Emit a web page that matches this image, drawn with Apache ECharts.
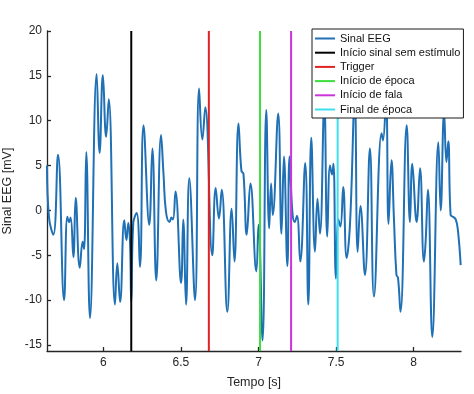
<!DOCTYPE html>
<html><head><meta charset="utf-8">
<script src="https://cdn.jsdelivr.net/npm/echarts@6/dist/echarts.min.js"></script>
<style>html,body{margin:0;padding:0;background:#fff}#c{width:474px;height:394px}</style>
</head><body><div id="c"></div>
<script>
const eegTime = [5.637,5.650,5.678,5.708,5.747,5.768,5.779,5.789,5.807,5.822,5.848,5.867,5.876,5.890,5.914,5.957,5.976,5.997,6.018,6.035,
  6.075,6.090,6.108,6.135,6.149,6.161,6.172,6.180,6.193,6.215,6.236,6.259,6.296,6.316,6.341,6.372,6.388,6.404,6.427,6.439,
  6.449,6.465,6.501,6.515,6.533,6.554,6.591,6.617,6.638,6.657,6.702,6.724,6.745,6.763,6.799,6.827,6.845,6.871,6.890,6.903,
  6.924,6.948,6.986,7.000,7.026,7.050,7.069,7.081,7.092,7.127,7.148,7.164,7.186,7.200,7.218,7.233,7.248,7.269,7.301,7.321,
  7.340,7.364,7.380,7.396,7.424,7.443,7.461,7.474,7.483,7.499,7.515,7.528,7.546,7.568,7.590,7.620,7.639,7.657,7.686,7.718,
  7.744,7.793,7.802,7.822,7.838,7.857,7.873,7.889,7.899,7.915,7.955,7.976,7.991,8.019,8.041,8.066,8.077,8.092,8.120,8.159,
  8.174,8.196,8.211,8.223,8.238,8.253,8.271,8.285,8.303];
const eegValue = [5.0,-0.8,-2.7,6.2,-10.0,-0.7,-1.3,-0.8,-5.2,1.4,-6.4,-3.5,-4.3,6.5,-12.0,15.2,6.4,15.1,8.2,12.4,
  -10.5,-5.9,-10.2,-1.1,-3.3,-1.4,-3.6,-10.2,-1.4,-0.3,-6.3,9.5,-1.6,6.9,-7.8,8.4,4.0,-0.2,-1.3,-0.8,
  -1.0,2.1,-8.1,-1.0,-10.5,3.6,-10.0,13.6,7.9,11.5,-5.0,2.5,-0.9,2.3,-11.3,0.2,-5.7,9.7,4.4,4.1,
  -2.7,3.0,-6.8,-1.6,-14.5,11.2,-2.0,3.0,-0.5,10.8,-2.6,6.0,-6.2,6.0,-0.1,-1.3,-0.6,-5.7,5.3,-10.5,
  8.1,-4.6,1.3,-2.6,12.0,-2.9,5.0,4.0,5.2,-7.6,-1.0,-1.8,2.6,-5.3,-1.4,12.5,-4.6,0.5,-7.2,6.9,
  -9.6,8.6,7.8,12.5,-1.5,5.6,-1.0,-7.2,-7.5,-11.3,9.5,-1.3,5.2,-1.3,4.7,-5.7,-3.5,2.3,-14.1,7.6,
  0.0,11.0,5.4,7.7,-0.5,-0.7,-1.0,-2.2,-6.1];
const markerNames = ['Início sinal sem estímulo','Trigger','Início de época','Início de fala','Final de época'];
const markerTimes = [6.18,6.68,7.01,7.21,7.51];
const xTicks = [6,6.5,7,7.5,8];
const yTicks = [-15,-10,-5,0,5,10,15,20];
const xRange = [5.637,8.305];
const yRange = [-15.67,20];

const markerColors = ['#000000','#e02222','#3ddd3d','#cc33dd','#3ddfee'];
const font = "'Liberation Sans', Arial, sans-serif";
const axisCol = '#262626';

const series = [{
  name: 'Sinal EEG', type: 'line', symbol: 'none', smooth: 0.45,
  lineStyle: {color: '#1f70b4', width: 2}, itemStyle: {color: '#1f70b4'},
  data: eegTime.map((t, i) => [t, eegValue[i]])
}];
markerNames.forEach((n, i) => {
  series.push({
    name: n, type: 'line', symbol: 'none',
    lineStyle: {color: markerColors[i], width: 2}, itemStyle: {color: markerColors[i]},
    data: [[markerTimes[i], yRange[0]], [markerTimes[i], yRange[1]]]
  });
});

const chart = echarts.init(document.getElementById('c'), null, {renderer: 'canvas'});
chart.setOption({
  animation: false,
  backgroundColor: '#fff',
  grid: {left: 47, top: 31, width: 414, height: 320, containLabel: false, outerBoundsMode: 'none'},
  xAxis: {
    type: 'value', min: xRange[0], max: xRange[1],
    name: 'Tempo [s]', nameLocation: 'middle', nameGap: 25,
    nameTextStyle: {fontFamily: font, fontSize: 12.5, color: axisCol},
    axisLine: {onZero: false, lineStyle: {color: axisCol, width: 1.3}},
    axisTick: {inside: true, length: 4, customValues: xTicks, lineStyle: {color: axisCol, width: 1.3}},
    axisLabel: {customValues: xTicks, margin: 6, fontFamily: font, fontSize: 12, color: axisCol, formatter: v => String(v)},
    splitLine: {show: false}
  },
  yAxis: {
    type: 'value', min: yRange[0], max: yRange[1],
    name: 'Sinal EEG [mV]', nameLocation: 'middle', nameGap: 25,
    nameTextStyle: {fontFamily: font, fontSize: 12.5, color: axisCol},
    axisLine: {show: true, onZero: false, lineStyle: {color: axisCol, width: 1.3}},
    axisTick: {show: true, inside: true, length: 4, customValues: yTicks, lineStyle: {color: axisCol, width: 1.3}},
    axisLabel: {customValues: yTicks, margin: 5, fontFamily: font, fontSize: 12, color: axisCol, formatter: v => String(v)},
    splitLine: {show: false}
  },
  legend: {
    data: ['Sinal EEG'].concat(markerNames),
    orient: 'vertical', left: 312, top: 29,
    padding: [4, 3, 3, 3], itemGap: 3.2,
    itemWidth: 20, itemHeight: 2, icon: 'rect',
    borderColor: '#1a1a1a', borderWidth: 1, backgroundColor: '#ffffff',
    selectedMode: false,
    textStyle: {fontFamily: font, fontSize: 11, lineHeight: 11, color: '#111'}
  },
  series: series
});
</script></body></html>
